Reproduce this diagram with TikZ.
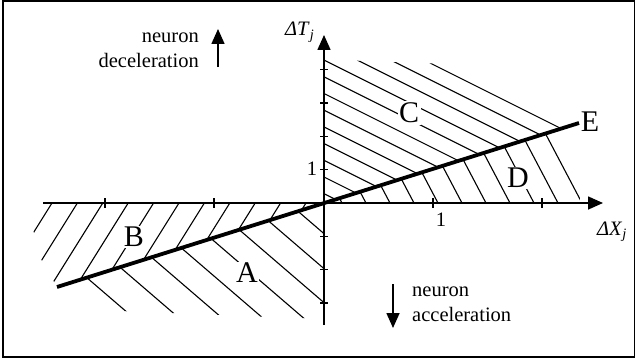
\documentclass[tikz,border=0pt]{standalone}
\usepackage{fontspec}
\setmainfont{Liberation Serif}
\usetikzlibrary{arrows.meta}

\begin{document}
\begin{tikzpicture}[
    x=1pt, y=-1pt, >={Triangle[length=15pt, width=13pt]},
    every node/.style={font=\fontsize{20.5}{24.5}\selectfont},
    hatch/.style={line width=1.1pt},
    axis_line/.style={->, line width=1.6pt},
    axis_tick/.style={line width=1.3pt},
    region/.style={font=\fontsize{30}{36}\selectfont, fill=white, inner sep=1.5pt}
]
\useasboundingbox (0,0) rectangle (636,361);
\draw[line width=1.5pt] (3,1) rectangle (634.5,357);

\coordinate (origin) at (324,203);
\coordinate (x_start) at (43,203);
\coordinate (x_end) at (603,203);
\coordinate (y_start) at (324,325);
\coordinate (y_end) at (324,35);
\coordinate (e_start) at (57,287);
\coordinate (e_end) at (579,123);

% hatching of the four regions
\begin{scope}
\clip (origin) -- (324,59.5) -- (640,71) -- (640,103.7) -- cycle;
\foreach \k in {0,...,11}
    \draw[hatch] (324,10+16.7*\k) -- ++(400,200);
\end{scope}
\begin{scope}
\clip (origin) -- (e_end) -- (580,203) -- cycle;
\foreach \k in {0,...,10}
    \draw[hatch] (344.6+24*\k,208) -- ++(-100,-190);
\end{scope}
\begin{scope}
\clip (origin) -- (26,203) -- (33,229) -- (41,259) -- (e_start) -- cycle;
\foreach \k in {0,...,10}
    \draw[hatch] (55+25.4*\k,198.2) -- ++(-100,160);
\end{scope}
\begin{scope}
\clip (origin) -- (324,319) -- (120,311) -- (e_start) -- cycle;
\foreach \c in {203,164,127,92,57,24,-10,-45}
    \draw[hatch] (0,\c) -- (400,\c+344);
\end{scope}

\draw[line width=3.8pt] (e_start) -- (e_end);

% axes
\draw[axis_line] (x_start) -- (x_end);
\draw[axis_line] (y_start) -- (y_end);
\foreach \x in {105,214,433,542}
    \draw[axis_tick] (\x,198) -- (\x,208);
\foreach \y in {69.7,103,136.4,169.7,236.3,269.6,302.9}
    \draw[axis_tick] (320,\y) -- (328,\y);

\node[region] (label_c) at (409,113) {C};
\node[region] (label_d) at (518,178) {D};
\node[region] (label_b) at (134,237) {B};
\node[region] (label_a) at (247,273) {A};
\node[region, fill=none] (label_e) at (590,122) {E};

\node[anchor=base west, inner sep=0] (y_label) at (285,36) {\textit{ΔT}\textsubscript{\textit{j}}};
\node[anchor=base west, inner sep=0] (x_label) at (597,235) {\textit{ΔX}\textsubscript{\textit{j}}};
\node (x_one) at (441,220) {1};
\node (y_one) at (312,169) {1};

\node[anchor=north east, align=right, inner sep=0] (decel_text) at (199,33) {neuron\\deceleration};
\node[anchor=north west, align=left, inner sep=0] (accel_text) at (412,287) {neuron\\acceleration};
\coordinate (decel_from) at (218,67);
\coordinate (decel_to) at (218,29);
\coordinate (accel_from) at (393,284);
\coordinate (accel_to) at (393,328);
\draw[axis_line] (decel_from) -- (decel_to);
\draw[axis_line] (accel_from) -- (accel_to);
\end{tikzpicture}
\end{document}
